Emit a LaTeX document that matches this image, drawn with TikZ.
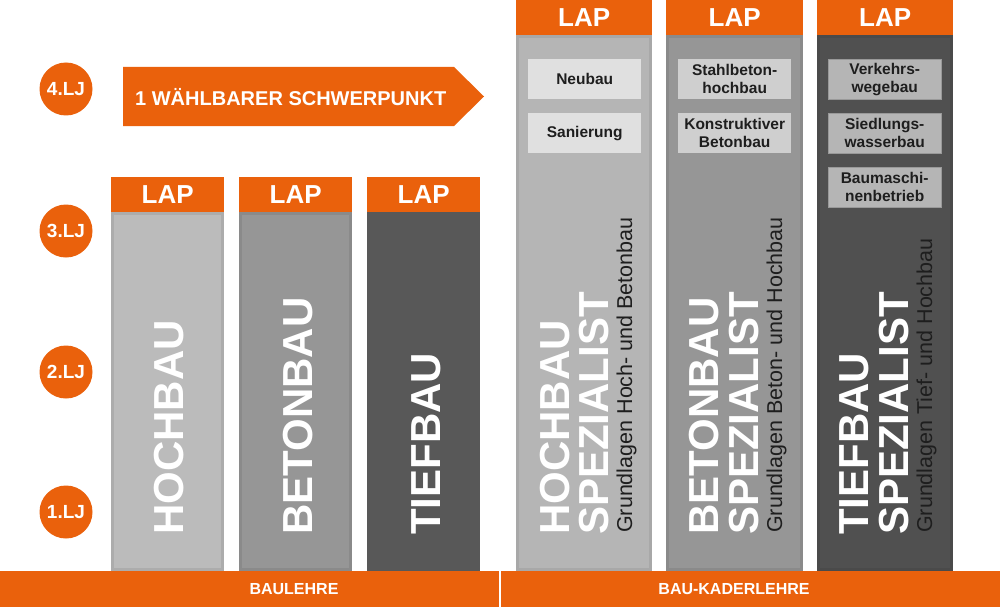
\documentclass[tikz,border=0pt]{standalone}
\usepackage{fontspec}
\setmainfont{Liberation Sans}
\usetikzlibrary{positioning}
\definecolor{lehrorange}{RGB}{234,97,12}
\definecolor{hochgray}{RGB}{187,187,187}
\definecolor{betongray}{RGB}{150,150,150}
\definecolor{tiefgray}{RGB}{88,88,88}
\definecolor{tiefspgray}{RGB}{80,80,80}
\definecolor{textdark}{RGB}{30,30,30}

\begin{document}
\begin{tikzpicture}[x=1pt, y=-1pt,
  lap/.style={fill=lehrorange, text=white, font=\fontsize{26}{26}\selectfont\bfseries,
    minimum height=35pt, inner sep=0pt, anchor=north west},
  colbody/.style={line width=3pt, inner sep=0pt, outer sep=1.5pt},
  lj/.style={circle, fill=lehrorange, text=white, minimum size=53pt, inner sep=0pt,
    font=\fontsize{19}{19}\selectfont\bfseries},
  vertlabel/.style={rotate=90, anchor=base west, inner sep=0pt, text=white,
    font=\fontsize{42}{42}\selectfont\bfseries},
  basis/.style={rotate=90, anchor=base west, inner sep=0pt, text=textdark,
    font=\fontsize{21.5}{21.5}\selectfont},
  fokus/.style={minimum width=113pt, minimum height=40pt, inner sep=0pt, anchor=north west,
    align=center, text=textdark, font=\fontsize{15.5}{18}\selectfont\bfseries},
  lehre/.style={fill=lehrorange, minimum width=499pt, minimum height=36pt, inner sep=0pt,
    anchor=north west},
  lehretext/.style={text=white, inner sep=0pt, font=\fontsize{16}{16}\selectfont\bfseries}
]
  \useasboundingbox[fill=white] (0,0) rectangle (1000,607);

  % Lehrjahre
  \node[lj] (lj4) at (66,89) {4.LJ};
  \node[lj] (lj3) at (66,231) {3.LJ};
  \node[lj] (lj2) at (66,372) {2.LJ};
  \node[lj] (lj1) at (66,512) {1.LJ};

  % Schwerpunkt-Pfeil
  \fill[lehrorange] (123,67) -- (454,67) -- (484,96.5) -- (454,126) -- (123,126) -- cycle;
  \node[anchor=west, inner sep=0pt, text=white, font=\fontsize{20}{20}\selectfont\bfseries]
    (schwerpunkt) at (135,97) {1 WÄHLBARER SCHWERPUNKT};

  % Baulehre: drei Saeulen
  \node[lap, minimum width=113pt] (lapHoch) at (111,177) {LAP};
  \node[lap, minimum width=113pt] (lapBeton) at (239,177) {LAP};
  \node[lap, minimum width=113pt] (lapTief) at (367,177) {LAP};
  \node[colbody, fill=hochgray, draw=hochgray!92!black, minimum width=110pt,
    minimum height=356pt, below=0pt of lapHoch] (hochbau) {};
  \node[colbody, fill=betongray, draw=betongray!92!black, minimum width=110pt,
    minimum height=356pt, below=0pt of lapBeton] (betonbau) {};
  \node[colbody, fill=tiefgray, draw=tiefgray, minimum width=110pt,
    minimum height=356pt, below=0pt of lapTief] (tiefbau) {};
  \node[vertlabel] (hochLbl) at (183,535) {HOCHBAU};
  \node[vertlabel] (betonLbl) at (312,535) {BETONBAU};
  \node[vertlabel] (tiefLbl) at (440,535) {TIEFBAU};

  % Bau-Kaderlehre: drei Spezialisten
  \node[lap, minimum width=136pt] (lapHochSp) at (516,0) {LAP};
  \node[lap, minimum width=137pt] (lapBetonSp) at (666,0) {LAP};
  \node[lap, minimum width=136pt] (lapTiefSp) at (817,0) {LAP};
  \node[colbody, fill=hochgray!97!black, draw=hochgray!90!black, minimum width=133pt,
    minimum height=533pt, below=0pt of lapHochSp] (hochSp) {};
  \node[colbody, fill=betongray, draw=betongray!92!black, minimum width=134pt,
    minimum height=533pt, below=0pt of lapBetonSp] (betonSp) {};
  \node[colbody, fill=tiefspgray, draw=tiefspgray!92!black, minimum width=133pt,
    minimum height=533pt, below=0pt of lapTiefSp] (tiefSp) {};

  % Schwerpunkte
  \node[fokus, fill=black!12] (neubau) at (528,59) {Neubau};
  \node[fokus, fill=black!12] (sanierung) at (528,113) {Sanierung};
  \node[fokus, fill=black!19] (stahlbeton) at (678,59) {Stahlbeton-\\hochbau};
  \node[fokus, fill=black!19] (konstruktiv) at (678,113) {Konstruktiver\\Betonbau};
  \node[fokus, fill=black!29, draw=black!40] (verkehr) at (828,59) {Verkehrs-\\wegebau};
  \node[fokus, fill=black!29, draw=black!40] (siedlung) at (828,113) {Siedlungs-\\wasserbau};
  \node[fokus, fill=black!29, draw=black!40] (maschinen) at (828,167) {Baumaschi-\\nenbetrieb};

  % senkrechte Beschriftungen
  \node[vertlabel] (hochSpA) at (569,535) {HOCHBAU};
  \node[vertlabel] (hochSpB) at (608,535) {SPEZIALIST};
  \node[basis] (hochSpC) at (632,533) {Grundlagen Hoch- und Betonbau};
  \node[vertlabel] (betonSpA) at (718,535) {BETONBAU};
  \node[vertlabel] (betonSpB) at (758,535) {SPEZIALIST};
  \node[basis] (betonSpC) at (782,533) {Grundlagen Beton- und Hochbau};
  \node[vertlabel] (tiefSpA) at (868,535) {TIEFBAU};
  \node[vertlabel] (tiefSpB) at (908,535) {SPEZIALIST};
  \node[basis] (tiefSpC) at (932,533) {Grundlagen Tief- und Hochbau};

  % Lehrgaenge unten
  \node[lehre] (baulehre) at (0,571) {};
  \node[lehre] (kaderlehre) at (501,571) {};
  \node[lehretext] (baulehreTxt) at (294,589) {BAULEHRE};
  \node[lehretext] (kaderlehreTxt) at (734,589) {BAU-KADERLEHRE};
\end{tikzpicture}
\end{document}
